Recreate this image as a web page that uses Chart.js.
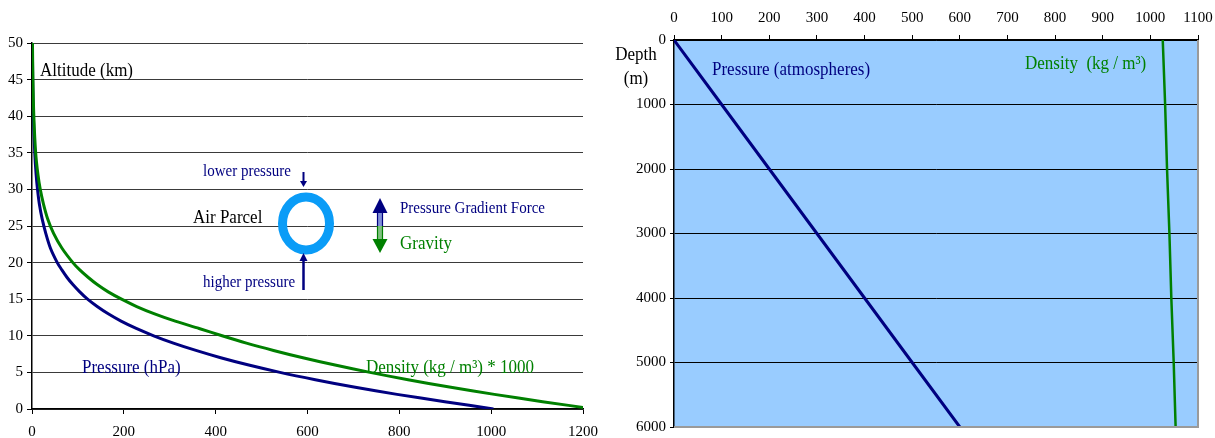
<!DOCTYPE html>
<html>
<head>
<meta charset="utf-8">
<script src="https://cdn.jsdelivr.net/npm/chart.js@4.4.1/dist/chart.umd.min.js"></script>
<style>
  body { margin: 0; background: #fff; width: 1215px; height: 438px; overflow: hidden; position: relative; }
  canvas { position: absolute; top: 0; }
  #atm { left: 0; }
  #sea { left: 600px; }
</style>
</head>
<body>
<canvas id="atm" width="600" height="438"></canvas>
<canvas id="sea" width="615" height="438"></canvas>
<script>
// ---- atmosphere (left chart) ----
const altitudeKm   = [0, 1, 2, 3, 4, 5, 6, 7, 8, 9, 10, 11, 12, 13, 14, 15, 16, 17, 18, 19, 20, 22, 24, 26, 28, 30, 32, 35, 40, 45, 50];
const pressureHpa  = [1005, 899, 795, 701, 617, 540, 472, 411, 357, 308, 265, 227, 194, 166, 142, 121, 104, 89, 76, 65, 55, 40, 30, 22, 16, 12, 9, 6, 3, 1.5, 0.8];
const densityX1000 = [1225, 1112, 1007, 909, 819, 736, 660, 590, 526, 467, 414, 364, 312, 267, 228, 195, 166, 142, 122, 104, 89, 65, 47, 34, 25, 18, 13, 8, 4, 2, 1];
const altTicks     = [0, 5, 10, 15, 20, 25, 30, 35, 40, 45, 50];
const atmXTicks    = [0, 200, 400, 600, 800, 1000, 1200];

// ---- ocean (right chart) ----
const depthM         = [0, 1000, 2000, 3000, 4000, 5000, 6000];
const seaPressureAtm = [0, 100, 200, 300, 400, 500, 600];
const seaDensity     = [1026, 1031, 1035, 1040, 1044, 1049, 1053];
const depthTicks     = [0, 1000, 2000, 3000, 4000, 5000, 6000];
const seaXTicks      = [0, 100, 200, 300, 400, 500, 600, 700, 800, 900, 1000, 1100];

const NAVY = '#000080';
const GREEN = '#008000';
const SERIF = '"Liberation Serif", "Times New Roman", serif';

function pts(xs, ys) {
    return xs.map((x, i) => ({ x, y: ys[i] }));
}

function setTicks(list) {
    return scale => { scale.ticks = list.map(v => ({ value: v })); };
}

// fixed axis size, and no extra room for overhanging end labels
function fixSize(prop, px) {
    return s => {
        s[prop] = px;
        s.paddingLeft = s.paddingRight = s.paddingTop = s.paddingBottom = 0;
    };
}

const plain = v => String(v);

// text slightly stretched vertically, like the original
function text(ctx, str, x, y, color, size) {
    ctx.save();
    ctx.fillStyle = color;
    ctx.font = size + 'px ' + SERIF;
    ctx.textAlign = 'left';
    ctx.textBaseline = 'alphabetic';
    ctx.translate(x, y);
    ctx.scale(1, 1.12);
    ctx.fillText(str, 0, 0);
    ctx.restore();
}

// vertical arrow, head at y2
function arrow(ctx, x, y1, y2, color, shaftW, headLen, headW) {
    const dir = y2 > y1 ? 1 : -1;
    ctx.fillStyle = color;
    ctx.fillRect(x - shaftW / 2, Math.min(y1, y2 - dir * headLen), shaftW, Math.abs(y2 - dir * headLen - y1));
    ctx.beginPath();
    ctx.moveTo(x, y2);
    ctx.lineTo(x - headW / 2, y2 - dir * headLen);
    ctx.lineTo(x + headW / 2, y2 - dir * headLen);
    ctx.closePath();
    ctx.fill();
}

// Text, the air parcel and the force arrows on the altitude chart
const atmNotes = {
    id: 'atmNotes',
    afterDatasetsDraw(chart) {
        const ctx = chart.ctx;
        ctx.save();
        text(ctx, 'Altitude (km)', 40, 76, '#000', 17);
        text(ctx, 'lower pressure', 203, 176, NAVY, 15);
        text(ctx, 'Air Parcel', 193, 223, '#000', 17);
        text(ctx, 'higher pressure', 203, 287, NAVY, 15);
        text(ctx, 'Pressure Gradient Force', 400, 213, NAVY, 15);
        text(ctx, 'Gravity', 400, 249, GREEN, 17);
        text(ctx, 'Pressure (hPa)', 82, 373, NAVY, 17);
        text(ctx, 'Density (kg / m\u00B3) * 1000', 366, 373, GREEN, 17);

        // air parcel
        ctx.beginPath();
        ctx.ellipse(306, 223.5, 23.5, 26.5, 0, 0, Math.PI * 2);
        ctx.strokeStyle = '#0a9cf7';
        ctx.lineWidth = 9;
        ctx.stroke();

        arrow(ctx, 303.5, 172, 187, NAVY, 2, 6, 7);
        arrow(ctx, 303.5, 290, 253, NAVY, 2.5, 8, 8);

        // double arrow: pressure gradient up, gravity down
        ctx.fillStyle = '#8090d8';
        ctx.fillRect(377, 212, 6, 14);
        ctx.fillStyle = '#80c080';
        ctx.fillRect(377, 226, 6, 14);
        ctx.lineWidth = 1.2;
        ctx.strokeStyle = NAVY;
        ctx.beginPath();
        ctx.moveTo(377.5, 212); ctx.lineTo(377.5, 226);
        ctx.moveTo(382.5, 212); ctx.lineTo(382.5, 226);
        ctx.stroke();
        ctx.strokeStyle = GREEN;
        ctx.beginPath();
        ctx.moveTo(377.5, 226); ctx.lineTo(377.5, 240);
        ctx.moveTo(382.5, 226); ctx.lineTo(382.5, 240);
        ctx.stroke();
        ctx.fillStyle = NAVY;
        ctx.beginPath();
        ctx.moveTo(380, 198); ctx.lineTo(372.5, 213); ctx.lineTo(387.5, 213); ctx.closePath(); ctx.fill();
        ctx.fillStyle = GREEN;
        ctx.beginPath();
        ctx.moveTo(380, 253); ctx.lineTo(372.5, 239); ctx.lineTo(387.5, 239); ctx.closePath(); ctx.fill();
        ctx.restore();
    }
};

// Light blue plot area, grey frame and labels on the depth chart
const seaNotes = {
    id: 'seaNotes',
    beforeDraw(chart) {
        const { ctx, chartArea: a } = chart;
        ctx.save();
        ctx.fillStyle = '#99ccff';
        ctx.fillRect(a.left, a.top, a.right - a.left, a.bottom - a.top);
        ctx.restore();
    },
    afterDatasetsDraw(chart) {
        const { ctx, chartArea: a } = chart;
        ctx.save();
        ctx.strokeStyle = '#9a9a9a';
        ctx.lineWidth = 2;
        ctx.beginPath();
        ctx.moveTo(a.right, a.top);
        ctx.lineTo(a.right, a.bottom);
        ctx.lineTo(a.left, a.bottom);
        ctx.stroke();
        ctx.save();
        ctx.textAlign = 'center';
        ctx.fillStyle = '#000';
        ctx.font = '17px ' + SERIF;
        ctx.translate(36, 60);
        ctx.scale(1, 1.12);
        ctx.fillText('Depth', 0, 0);
        ctx.fillText('(m)', 0, 21);
        ctx.restore();
        text(ctx, 'Pressure (atmospheres)', 112, 75, NAVY, 17);
        text(ctx, 'Density  (kg / m\u00B3)', 425, 69, GREEN, 17);
        ctx.restore();
    }
};

const tickFont = { family: SERIF, size: 15 };

new Chart(document.getElementById('atm'), {
    type: 'line',
    data: {
        datasets: [
            { data: pts(pressureHpa, altitudeKm), borderColor: NAVY, borderWidth: 3, pointRadius: 0, tension: 0.3, order: 2 },
            { data: pts(densityX1000, altitudeKm), borderColor: GREEN, borderWidth: 3, pointRadius: 0, tension: 0.3, order: 1 }
        ]
    },
    options: {
        responsive: false,
        animation: false,
        indexAxis: 'y',
        layout: { padding: { top: 43, right: 17, left: 0, bottom: 0 } },
        plugins: { legend: { display: false }, tooltip: { enabled: false } },
        scales: {
            x: {
                type: 'linear', min: 0, max: 1200,
                afterBuildTicks: setTicks(atmXTicks),
                afterFit: fixSize('height', 29),
                ticks: { color: '#000', font: tickFont, padding: 9, maxRotation: 0, callback: plain },
                grid: { drawOnChartArea: false, tickLength: 5, tickColor: '#000' },
                border: { color: '#000', width: 1.5 }
            },
            y: {
                type: 'linear', min: 0, max: 50,
                afterBuildTicks: setTicks(altTicks),
                afterFit: fixSize('width', 32),
                ticks: { color: '#000', font: tickFont, padding: 4, callback: plain },
                grid: { color: '#3a3a3a', lineWidth: 1, tickLength: 5, tickColor: '#000' },
                border: { color: '#000', width: 1.5 }
            }
        }
    },
    plugins: [atmNotes]
});

new Chart(document.getElementById('sea'), {
    type: 'line',
    data: {
        datasets: [
            { data: pts(seaPressureAtm, depthM), borderColor: NAVY, borderWidth: 3, pointRadius: 0 },
            { data: pts(seaDensity, depthM), borderColor: GREEN, borderWidth: 2.5, pointRadius: 0 }
        ]
    },
    options: {
        responsive: false,
        animation: false,
        indexAxis: 'y',
        layout: { padding: { top: 0, right: 17, left: 0, bottom: 11 } },
        plugins: { legend: { display: false }, tooltip: { enabled: false } },
        scales: {
            x: {
                type: 'linear', position: 'top', min: 0, max: 1100,
                afterBuildTicks: setTicks(seaXTicks),
                afterFit: fixSize('height', 40),
                ticks: { color: '#000', font: tickFont, padding: 8, maxRotation: 0, callback: plain },
                grid: { drawOnChartArea: false, tickLength: 5, tickColor: '#000' },
                border: { color: '#000', width: 1.5 }
            },
            y: {
                type: 'linear', reverse: true, min: 0, max: 6000,
                afterBuildTicks: setTicks(depthTicks),
                afterFit: fixSize('width', 74),
                ticks: { color: '#000', font: tickFont, padding: 4, callback: plain },
                grid: { color: '#000', lineWidth: 1, tickLength: 4, tickColor: '#000' },
                border: { color: '#000', width: 1.5 }
            }
        }
    },
    plugins: [seaNotes]
});
</script>
</body>
</html>
